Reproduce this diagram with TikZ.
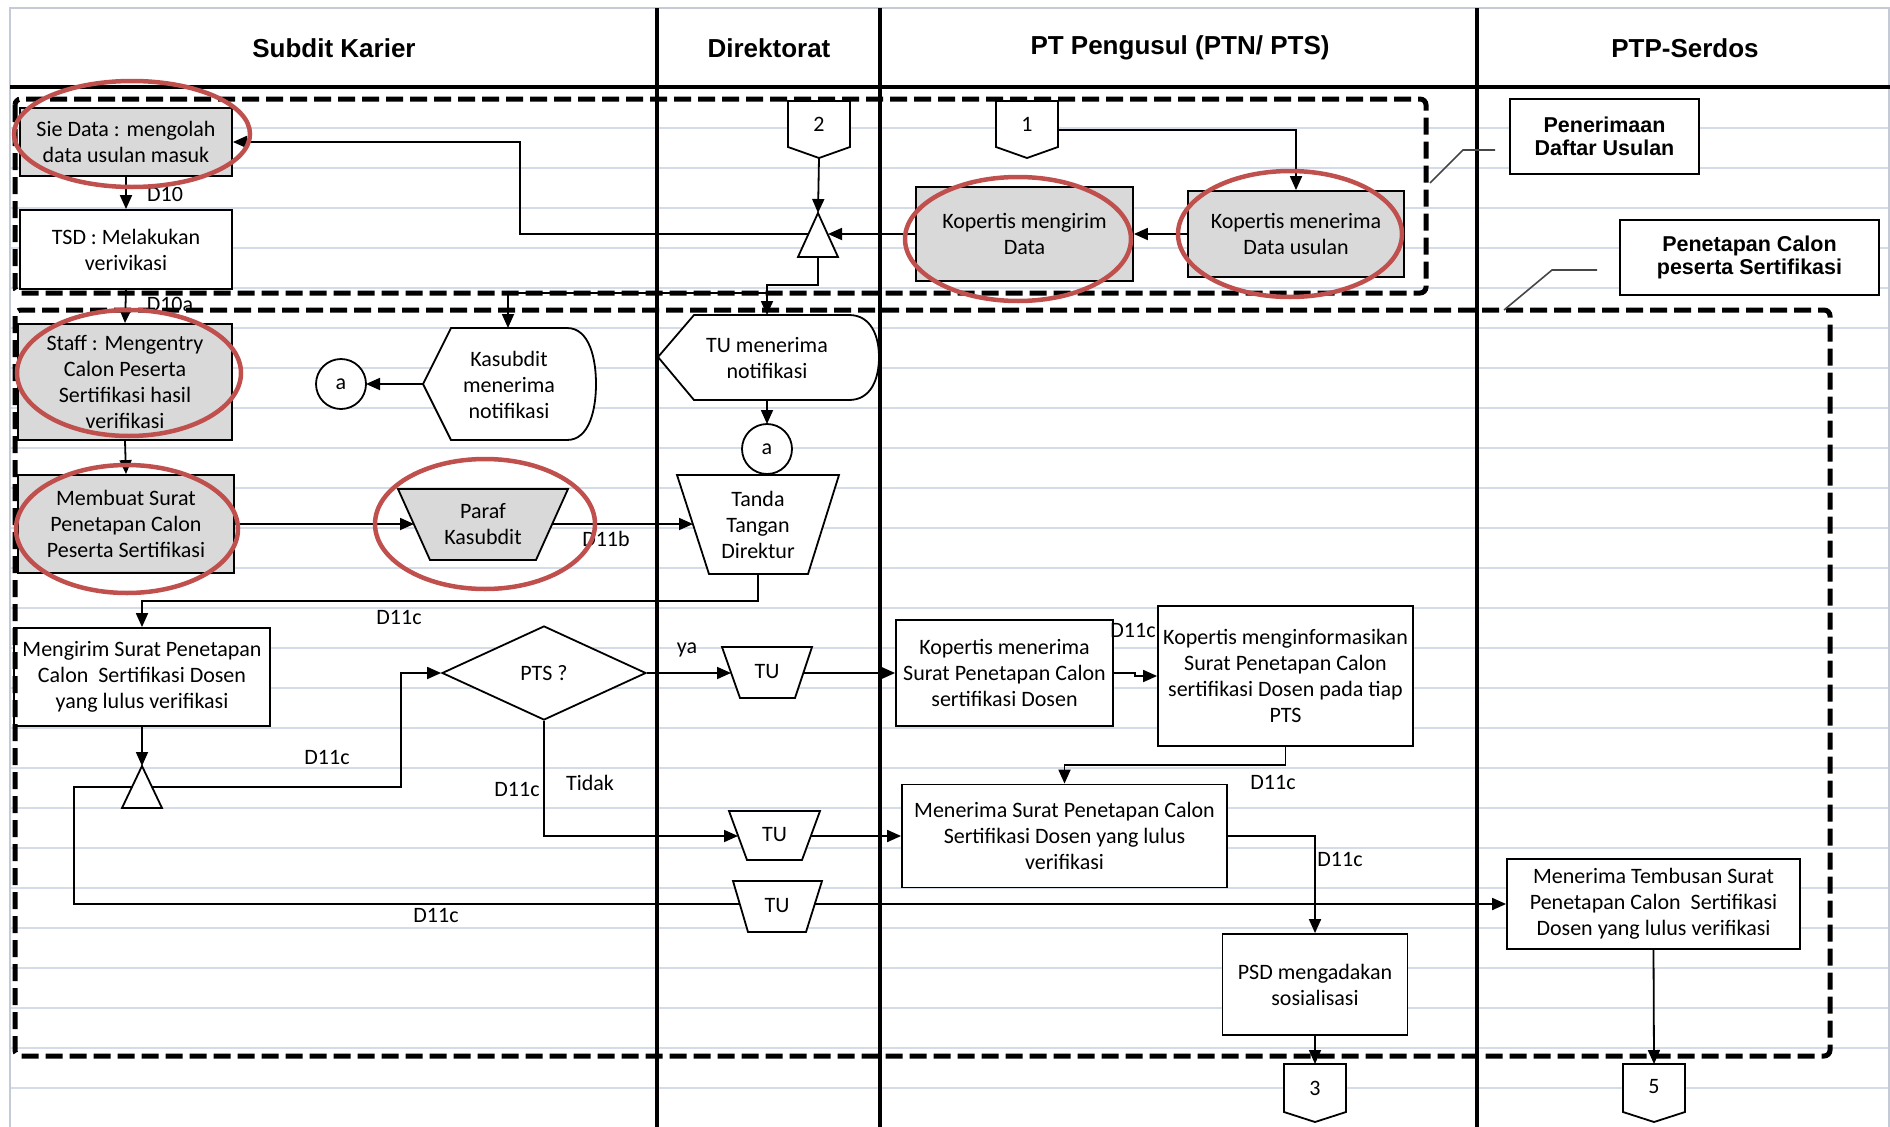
\documentclass[tikz,border=0pt]{standalone}
\usepackage{fontspec}
\setmainfont{Carlito}
\newfontfamily\headfont{Liberation Sans}
\usetikzlibrary{arrows.meta,shapes.geometric}

\definecolor{gridline}{RGB}{212,220,234}
\definecolor{sheetedge}{RGB}{196,202,214}
\definecolor{boxfill}{RGB}{217,217,217}
\definecolor{ringred}{RGB}{192,80,77}
\definecolor{leadergray}{RGB}{70,70,70}

\tikzset{
  lbl/.style={font=\fontsize{22}{26}\selectfont, inner sep=0pt, align=center},
  stepbox/.style={draw, line width=1.8pt, fill=white, align=center, inner sep=0pt,
                  font=\fontsize{22}{26}\selectfont},
  graybox/.style={stepbox, fill=boxfill},
  shp/.style={draw, line width=1.8pt, fill=white},
  grayshp/.style={shp, fill=boxfill},
  flow/.style={line width=1.8pt, -{Triangle[length=14pt,width=12pt]}},
  plainline/.style={line width=1.8pt},
  lane/.style={line width=4pt},
  dashbox/.style={line width=5pt, dash pattern=on 17pt off 7pt, rounded corners=6pt},
  ring/.style={draw=ringred, line width=4.5pt},
  leader/.style={draw=leadergray, line width=1.6pt},
  callbox/.style={draw, line width=2pt, fill=white, align=center, inner sep=0pt,
                  font=\headfont\bfseries\fontsize{21.5}{23}\selectfont},
  head/.style={font=\headfont\bfseries\fontsize{26}{30}\selectfont, inner sep=0pt},
}

\begin{document}
\begin{tikzpicture}[x=1pt,y=-1pt]
\useasboundingbox (0,0) rectangle (1890,1127);
\fill[white] (0,0) rectangle (1890,1127);

% sheet rulings
\foreach \gy in {128,168,...,1088} \draw[gridline, line width=1.6pt] (10,\gy) -- (1890,\gy);
\draw[sheetedge, line width=1.6pt] (10,1127) -- (10,8) -- (1889,8) -- (1889,1127);

% swimlanes
\draw[lane] (10,87) -- (1890,87);
\draw[lane] (657,8) -- (657,1127);
\draw[lane] (880,8) -- (880,1127);
\draw[lane] (1477,8) -- (1477,1127);
\node[head] (hSubdit) at (334,48) {Subdit Karier};
\node[head] (hDir) at (769,48) {Direktorat};
\node[head] (hPT) at (1180,48) {PT Pengusul (PTN/ PTS)};
\node[head] (hPTP) at (1685,48) {PTP-Serdos};

% ---------- anchor points of hand-drawn shapes ----------
\coordinate (twoTip) at (819,158);
\coordinate (oneE) at (1058,130);
\coordinate (tri1Top) at (818,213);
\coordinate (tri1Bot) at (818,257);
\coordinate (tri1R) at (828,234);
\coordinate (tri1L) at (808,234);
\coordinate (splitA) at (767,293);
\coordinate (tumN) at (767,315);
\coordinate (tumS) at (767,400);
\coordinate (kasN) at (508,328);
\coordinate (kasW) at (423,384);
\coordinate (parafW) at (414,524);
\coordinate (parafE) at (552,524);
\coordinate (tandaW) at (693,524);
\coordinate (tandaS) at (758,574);
\coordinate (tri2Top) at (142,766);
\coordinate (tri2R) at (152,787);
\coordinate (tri2L) at (132,787);
\coordinate (tu1W) at (731,673);
\coordinate (tu1E) at (803,673);
\coordinate (tu2W) at (738,836);
\coordinate (tu2E) at (811,836);
\coordinate (threeN) at (1315,1064);
\coordinate (fiveN) at (1654,1064);

% ---------- rectangular steps ----------
\node[graybox, minimum width=212, minimum height=68] (sie) at (126,142) {Sie Data : mengolah\\data usulan masuk};
\node[stepbox, minimum width=212, minimum height=79] (tsd) at (126,249.5) {TSD : Melakukan\\verivikasi};
\node[graybox, minimum width=214, minimum height=116] (staff) at (125,382) {Staff : Mengentry\\Calon Peserta\\Sertifikasi hasil\\verifikasi};
\node[graybox, minimum width=216, minimum height=98] (membuat) at (126,524) {Membuat Surat\\Penetapan Calon\\Peserta Sertifikasi};
\node[stepbox, minimum width=256, minimum height=98] (mengirim) at (142,677) {Mengirim Surat Penetapan\\Calon~ Sertifikasi Dosen\\yang lulus verifikasi};
\node[graybox, minimum width=217, minimum height=94] (kirimdata) at (1024.5,234) {Kopertis mengirim\\Data};
\node[graybox, minimum width=216, minimum height=86] (terimadata) at (1296,234) {Kopertis menerima\\Data usulan};
\node[stepbox, minimum width=217, minimum height=106] (kms) at (1004.5,673) {Kopertis menerima\\Surat Penetapan Calon\\sertifikasi Dosen};
\node[stepbox, minimum width=255, minimum height=140] (kmi) at (1285.5,676) {Kopertis menginformasikan\\Surat Penetapan Calon\\sertifikasi Dosen pada tiap\\PTS};
\node[stepbox, minimum width=325, minimum height=103] (mrs) at (1064.5,836) {Menerima Surat Penetapan Calon\\Sertifikasi Dosen yang lulus\\verifikasi};
\node[stepbox, minimum width=185, minimum height=101] (psd) at (1315,984.5) {PSD mengadakan\\sosialisasi};
\node[stepbox, minimum width=293, minimum height=90] (tembusan) at (1653.5,904) {Menerima Tembusan Surat\\Penetapan Calon~ Sertifikasi\\Dosen yang lulus verifikasi};
\node[shp, diamond, minimum width=204, minimum height=94, inner sep=0pt, lbl] (pts) at (544,673) {PTS ?};

% ---------- connectors ----------
\draw[flow] (sie.south) -- (tsd.north);
\draw[flow] (tsd.south) -- (staff.north);
\draw[flow] (staff.south) -- (membuat.north);
\draw[flow] (membuat.east) -- (parafW);
\draw[flow] (parafE) -- (tandaW);
\draw[flow] (tandaS) -- (758,601) -| (mengirim.north);
\draw[flow] (kasW) -- (341+25,384);
\draw[flow] (oneE) -| (terimadata.north);
\draw[flow] (terimadata.west) -- (kirimdata.east);
\draw[flow] (kirimdata.west) -- (tri1R);
\draw[flow] (tri1L) -| (520,142) -- (sie.east);
\draw[flow] (twoTip) -- (tri1Top);
\draw[flow] (tri1Bot) -- (818,285) -| (tumN);
\draw[flow] (splitA) -| (kasN);
\draw[flow] (tumS) -- (767,424);
\draw[flow] (mengirim.south) -- (tri2Top);
\draw[flow] (tri2R) -- (401,787) |- (pts.west);
\draw[flow] (tri2L) -- (74,787) |- (tembusan.west);
\draw[flow] (pts.east) -- (tu1W);
\draw[flow] (tu1E) -- (kms.west);
\draw[flow] (kms.east) -- (1135,673) -- (1135,676) -- (kmi.west);
\draw[flow] (kmi.south) -- (1285.5,765) -| (mrs.north);
\draw[flow] (pts.south) |- (tu2W);
\draw[flow] (tu2E) -- (mrs.west);
\draw[flow] (mrs.east) -| (psd.north);
\draw[flow] (psd.south) -- (threeN);
\draw[flow] (tembusan.south) -- (fiveN);

% ---------- hand-drawn flowchart symbols ----------
% off-page connectors
\draw[shp] (788,101) -- (850,101) -- (850,147) -- (819,158) -- (788,147) -- cycle;
\node[lbl] (two) at (819,124) {2};
\draw[shp] (996,101) -- (1058,101) -- (1058,147) -- (1027,158) -- (996,147) -- cycle;
\node[lbl] (one) at (1027,124) {1};
\draw[shp] (1284,1064) -- (1346,1064) -- (1346,1112) -- (1315,1122) -- (1284,1112) -- cycle;
\node[lbl] (three) at (1315,1088) {3};
\draw[shp] (1623,1064) -- (1685,1064) -- (1685,1112) -- (1654,1122) -- (1623,1112) -- cycle;
\node[lbl] (five) at (1654,1087) {5};

% merge triangles
\draw[shp] (tri1Top) -- (838,257) -- (798,257) -- cycle;
\draw[shp] (tri2Top) -- (162,808) -- (122,808) -- cycle;

% display symbols
\draw[shp] (kasW) -- (451,328) -- (567,328)
  .. controls (590,328) and (596,360) .. (596,384)
  .. controls (596,408) and (590,440) .. (567,440) -- (451,440) -- cycle;
\node[lbl] (kasubdit) at (509,385) {Kasubdit\\menerima\\notifikasi};
\draw[shp] (658,357) -- (694,315) -- (849,315)
  .. controls (871,315) and (879,336) .. (879,357)
  .. controls (879,379) and (871,400) .. (849,400) -- (694,400) -- cycle;
\node[lbl] (tum) at (767,358) {TU menerima\\notifikasi};

% connector circles
\node[shp, circle, minimum size=50, inner sep=0pt, lbl] (a1) at (341,384) {a};
\node[shp, circle, minimum size=50, inner sep=0pt, lbl] (a2) at (767,449) {a};

% manual operations
\draw[grayshp] (398,489) -- (568,489) -- (536,560) -- (430,560) -- cycle;
\node[lbl] (paraf) at (483,524) {Paraf\\Kasubdit};
\draw[shp] (677,475) -- (839,475) -- (808,574) -- (709,574) -- cycle;
\node[lbl] (tanda) at (758,525) {Tanda\\Tangan\\Direktur};
\draw[shp] (722,647) -- (812,647) -- (795,698) -- (740,698) -- cycle;
\node[lbl] (tu1) at (767,672) {TU};
\draw[shp] (729,811) -- (820,811) -- (802,860) -- (747,860) -- cycle;
\node[lbl] (tu2) at (774.5,835) {TU};
\draw[shp] (733,881) -- (822,881) -- (806,932) -- (748,932) -- cycle;
\node[lbl] (tu3) at (777,906) {TU};

% ---------- connector labels ----------
\begin{scope}
  \clip (140,187) rectangle (200,215);
  \node[lbl] (lD10) at (165,194) {D10};
\end{scope}
\node[lbl] (lD10a) at (170,304) {D10a};
\node[lbl] (lD11b) at (606,539) {D11b};
\node[lbl] (lD11c1) at (399,617) {D11c};
\node[lbl] (lD11c2) at (327,757) {D11c};
\node[lbl] (lD11c3) at (436,915) {D11c};
\node[lbl] (lYa) at (687,650) {ya};
\node[lbl] (lD11c4) at (517,789) {D11c};
\node[lbl] (lTidak) at (590,783) {Tidak};
\node[lbl] (lD11c5) at (1133,630) {D11c};
\node[lbl] (lD11c6) at (1273,782) {D11c};
\node[lbl] (lD11c7) at (1340,859) {D11c};

% ---------- stage frames ----------
\draw[dashbox] (15,99) rectangle (1426,293);
\draw[dashbox] (15,310) rectangle (1830,1056);

% stage captions with leader lines
\coordinate (ld1a) at (1430,183);
\coordinate (ld1b) at (1495,150);
\draw[leader] (ld1a) -- (1463,150) -- (ld1b);
\node[callbox, minimum width=189, minimum height=75] (cap1) at (1604.5,136.5) {Penerimaan\\Daftar Usulan};
\coordinate (ld2a) at (1504,310);
\coordinate (ld2b) at (1597,270);
\draw[leader] (ld2a) -- (1552,270) -- (ld2b);
\node[callbox, minimum width=259, minimum height=75] (cap2) at (1749.5,257.5) {Penetapan Calon\\peserta Sertifikasi};

% ---------- highlight rings ----------
\draw[ring] (132,134) ellipse [x radius=118, y radius=53];
\draw[ring] (129,373) ellipse [x radius=112, y radius=63];
\draw[ring] (127,529) ellipse [x radius=111, y radius=64];
\draw[ring] (485,524) ellipse [x radius=110, y radius=65];
\draw[ring] (1018,239) ellipse [x radius=113, y radius=62];
\draw[ring] (1290,234) ellipse [x radius=112, y radius=63];
\end{tikzpicture}
\end{document}
